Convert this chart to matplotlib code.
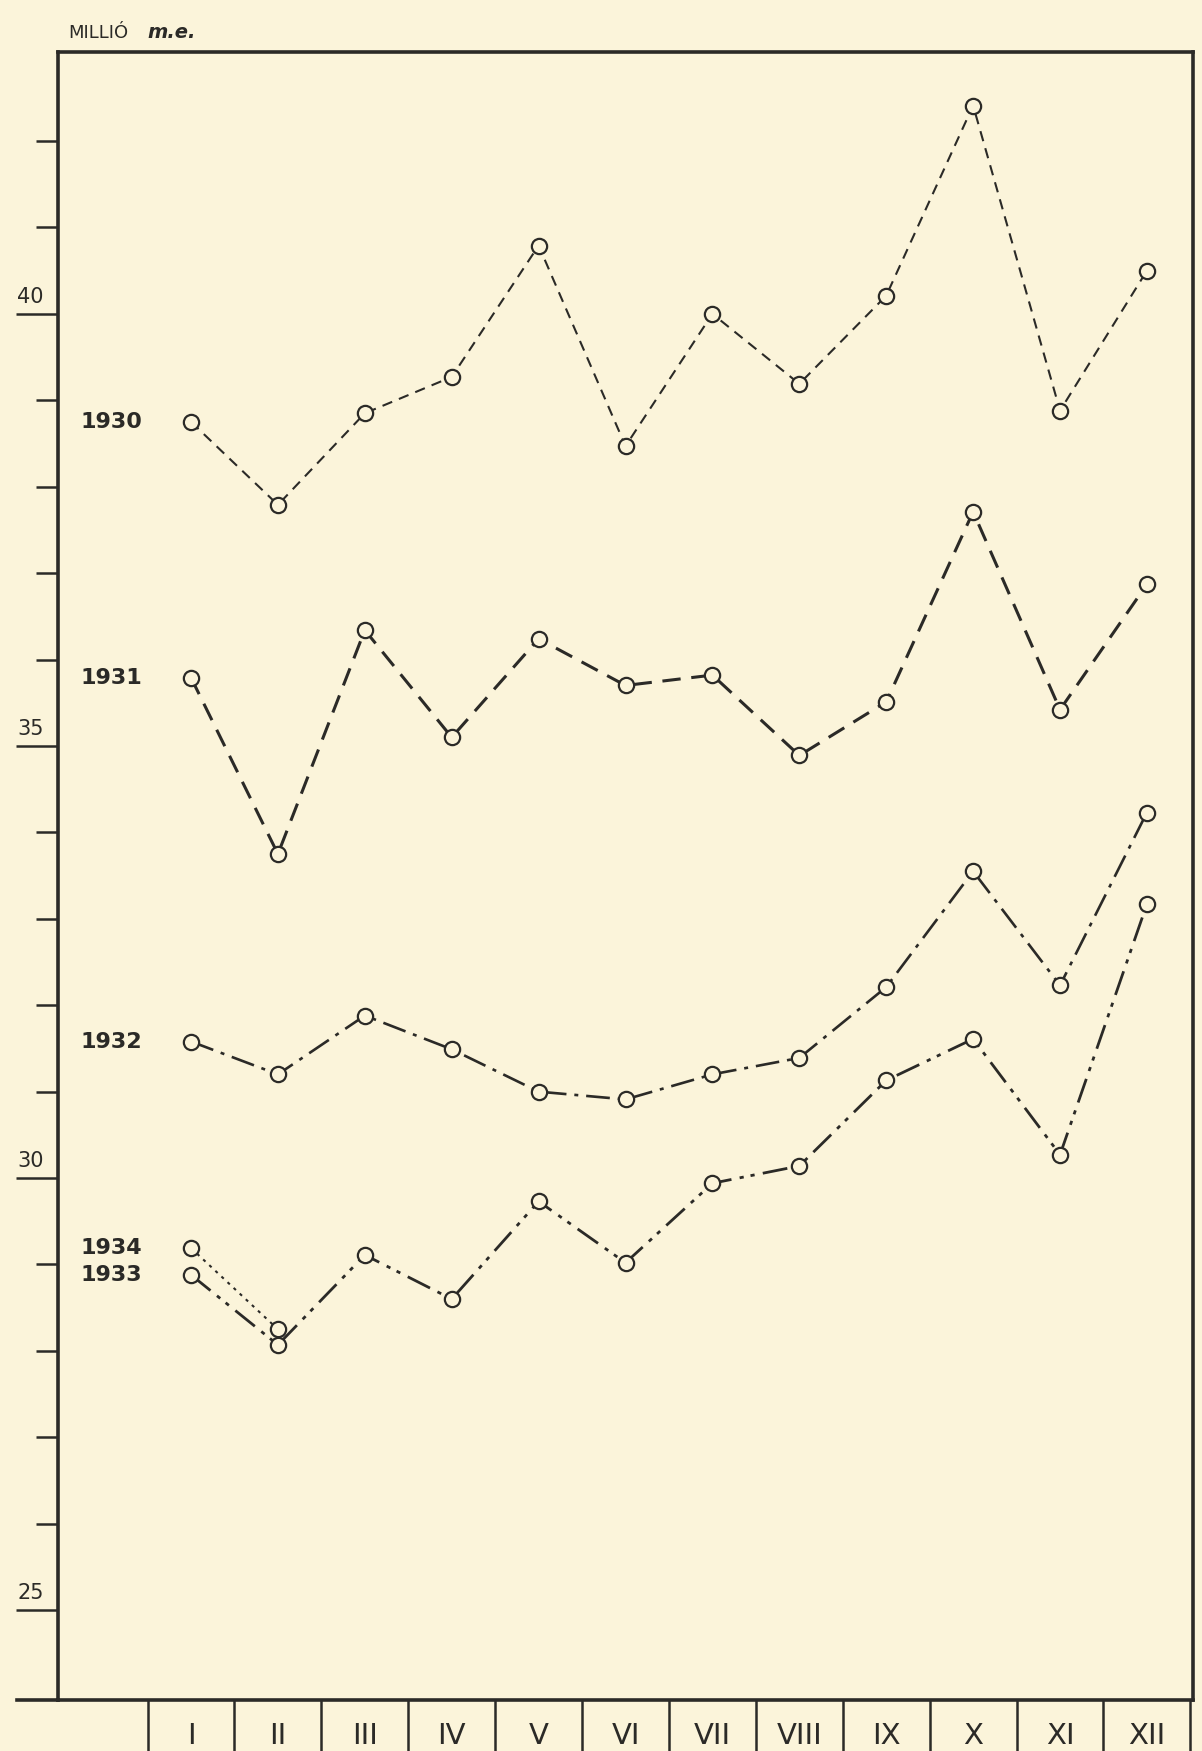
import numpy as np
import matplotlib
matplotlib.use("Agg")
import matplotlib.pyplot as plt

# monthly values, million m.e.
months = ["I", "II", "III", "IV", "V", "VI", "VII", "VIII", "IX", "X", "XI", "XII"]
v1930 = [38.75, 37.79, 38.85, 39.27, 40.79, 38.47, 40.00, 39.19, 40.21, 42.41, 38.88, 40.50]
v1931 = [35.79, 33.75, 36.34, 35.10, 36.24, 35.70, 35.82, 34.89, 35.51, 37.71, 35.42, 36.87]
v1932 = [31.58, 31.20, 31.88, 31.49, 31.00, 30.91, 31.20, 31.39, 32.21, 33.55, 32.23, 34.23]
v1933 = [28.88, 28.07, 29.11, 28.60, 29.73, 29.02, 29.94, 30.14, 31.13, 31.61, 30.27, 33.17]
v1934 = [29.19, 28.25]

bg = "#fbf4da"
ink = "#2b2a27"

fig = plt.figure(figsize=(12.02, 17.51), dpi=100, facecolor=bg)
ax = fig.add_axes([0.0483, 0.0291, 0.9442, 0.9412])
ax.set_facecolor(bg)

x = np.arange(1, 13)
marker = dict(marker="o", markersize=11, markerfacecolor=bg,
              markeredgecolor=ink, markeredgewidth=1.6, color=ink)

ax.plot(x, v1930, lw=1.5, dashes=(5, 3.5), **marker)
ax.plot(x, v1931, lw=2.2, dashes=(6, 3.5), **marker)
ax.plot(x, v1932, lw=1.9, dashes=(9, 3, 1.5, 3), **marker)
ax.plot(x, v1933, lw=2.0, dashes=(9, 3, 1.5, 2.5, 1.5, 3), **marker)
ax.plot(x[:2], v1934, lw=1.5, dashes=(1.5, 2.5), **marker)

# year labels at the left
labels = [("1930", v1930[0]), ("1931", v1931[0]), ("1932", v1932[0]),
          ("1934", v1934[0]), ("1933", v1933[0])]
for txt, yv in labels:
    ax.text(0.44, yv, txt, ha="right", va="center", fontsize=16,
            fontweight="bold", color=ink)

ax.set_xlim(-0.53, 12.53)
ax.set_ylim(23.96, 43.03)

# x axis: month names centred, separators between months
ax.set_xticks(x)
ax.set_xticklabels(months, fontsize=21, color=ink)
ax.set_xticks(np.arange(0.5, 13, 1), minor=True)
ax.tick_params(axis="x", which="major", length=0, pad=16)
ax.tick_params(axis="x", which="minor", length=37, width=1.8, color=ink)

# y axis: long ticks every 5, short ticks every 1, numbers above the ticks
ax.set_yticks([25, 30, 35, 40])
ax.set_yticklabels([])
ax.set_yticks(np.arange(25, 43, 1), minor=True)
ax.tick_params(axis="y", which="major", length=30, width=1.8, color=ink)
ax.tick_params(axis="y", which="minor", length=16, width=1.8, color=ink)
for v in [25, 30, 35, 40]:
    ax.text(-0.0245, v + 0.08, str(v), transform=ax.get_yaxis_transform(),
            ha="center", va="bottom", fontsize=15, color=ink)

for side in ["left", "right", "top", "bottom"]:
    ax.spines[side].set_color(ink)
    ax.spines[side].set_linewidth(2.6)

# bottom line runs a little past the left axis
ax.plot([-0.036, 0], [0, 0], transform=ax.transAxes, color=ink,
        lw=2.6, clip_on=False)

fig.text(0.0566, 0.9785, "MILLIÓ", fontsize=13, color=ink, ha="left",
         va="baseline", fontweight="medium")
fig.text(0.1225, 0.9785, "m.e.", fontsize=14, color=ink, style="italic",
         fontweight="bold", ha="left", va="baseline")

fig.savefig("out.png", dpi=100, facecolor=bg)
